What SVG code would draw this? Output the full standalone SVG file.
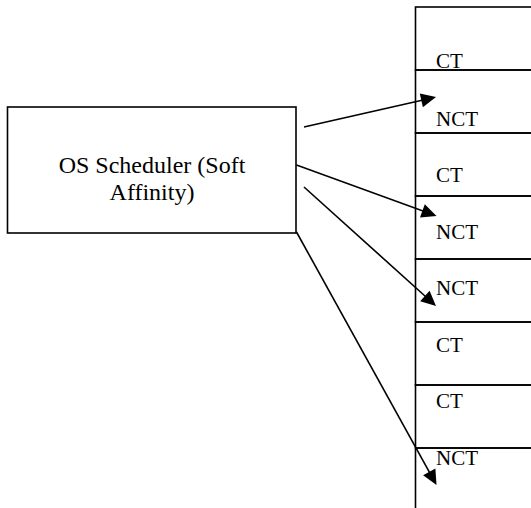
<svg xmlns="http://www.w3.org/2000/svg" width="531" height="508" viewBox="0 0 531 508">
  <style>
    .frame { fill: #ffffff; stroke: #000000; stroke-width: 1.6; }
    .cell { fill: none; stroke: #000000; stroke-width: 1.6; }
    .label { font-family: "Liberation Serif", "Times New Roman", serif; font-size: 21px; fill: #000000; }
    .title { font-family: "Liberation Serif", "Times New Roman", serif; font-size: 24px; fill: #000000; text-anchor: middle; }
    .link { fill: none; stroke: #000000; stroke-width: 1.6; }
    .tip { fill: #000000; stroke: none; }
  </style>
  <rect width="531" height="508" fill="#ffffff"/>

  <!-- scheduler -->
  <g id="scheduler">
    <rect class="frame" x="7.5" y="107" width="288.5" height="126"/>
    <text class="title" x="152" y="173">OS Scheduler (Soft</text>
    <text class="title" x="152" y="200">Affinity)</text>
  </g>

  <!-- processor slots, stacked column -->
  <g id="slot1"><rect class="cell" x="415.5" y="7" width="200" height="63"/><text class="label" x="436" y="68">CT</text></g>
  <g id="slot2"><rect class="cell" x="415.5" y="70" width="200" height="63"/><text class="label" x="436" y="126">NCT</text></g>
  <g id="slot3"><rect class="cell" x="415.5" y="133" width="200" height="63"/><text class="label" x="436" y="182">CT</text></g>
  <g id="slot4"><rect class="cell" x="415.5" y="196" width="200" height="63"/><text class="label" x="436" y="239">NCT</text></g>
  <g id="slot5"><rect class="cell" x="415.5" y="259" width="200" height="63"/><text class="label" x="436" y="295">NCT</text></g>
  <g id="slot6"><rect class="cell" x="415.5" y="322" width="200" height="63"/><text class="label" x="436" y="352">CT</text></g>
  <g id="slot7"><rect class="cell" x="415.5" y="385" width="200" height="63"/><text class="label" x="436" y="408">CT</text></g>
  <g id="slot8"><rect class="cell" x="415.5" y="448" width="200" height="100"/><text class="label" x="436" y="465">NCT</text></g>

  <!-- dispatch arrows: shaft plus solid head -->
  <g id="connectors">
    <line class="link" x1="304" y1="127" x2="422" y2="100.2"/>
    <polygon class="tip" points="436,97 422.9,107.2 419.8,93.5"/>
    <line class="link" x1="296.5" y1="165" x2="423" y2="211.1"/>
    <polygon class="tip" points="436.5,216 420,217.5 424.8,204.3"/>
    <line class="link" x1="304" y1="187" x2="425.5" y2="296.5"/>
    <polygon class="tip" points="436,306 420.2,301.2 429.6,290.8"/>
    <line class="link" x1="296.5" y1="232" x2="429.5" y2="472.3"/>
    <polygon class="tip" points="436.5,485 423.1,475.3 435.4,468.5"/>
  </g>
</svg>
